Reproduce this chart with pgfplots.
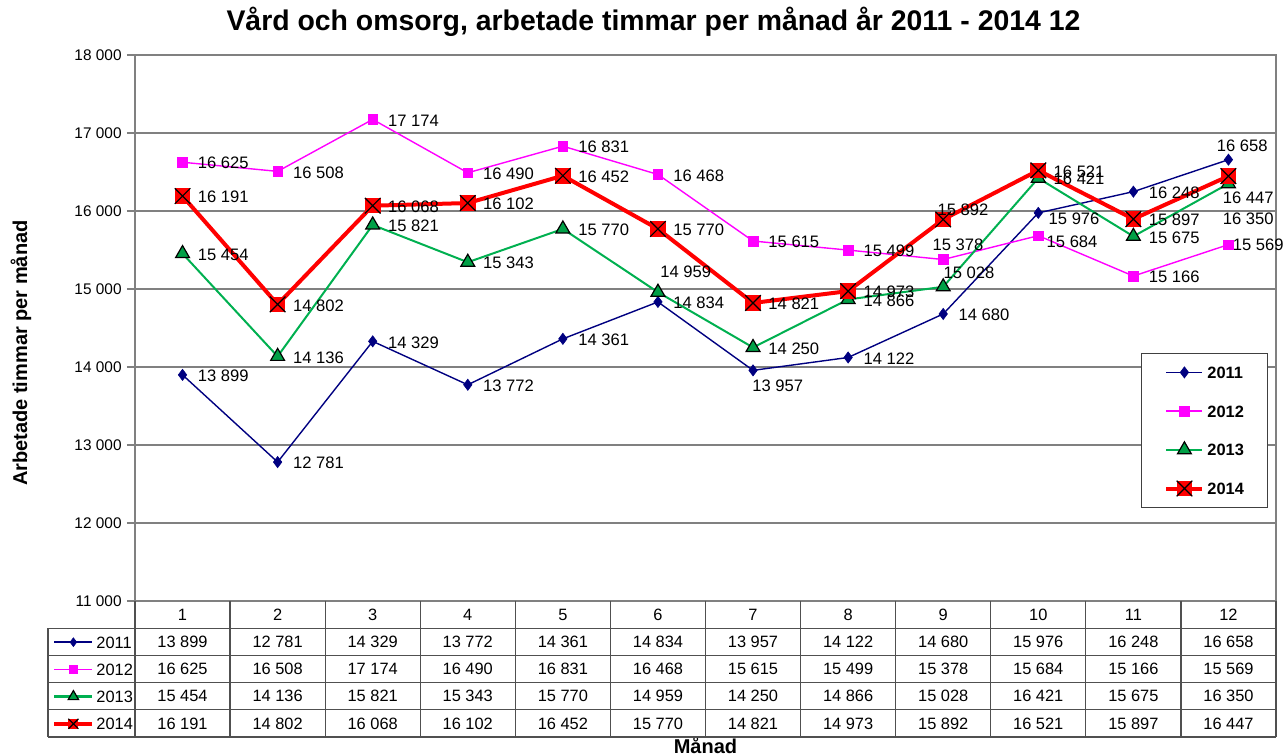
\documentclass[border=0pt]{standalone}
\usepackage{fontspec}
\setmainfont{Liberation Sans}
\usepackage{pgfplots}
\usepackage{pgfplotstable}
\pgfplotsset{compat=1.18}

\definecolor{c11}{RGB}{0,0,128}
\definecolor{c12}{RGB}{255,0,255}
\definecolor{c13}{RGB}{0,176,80}
\definecolor{c13f}{RGB}{0,160,70}
\definecolor{c14}{RGB}{255,0,0}
\definecolor{gridc}{RGB}{128,128,128}
\definecolor{tabc}{RGB}{80,80,80}

\newcommand\tabfont{\fontsize{8.2}{10}\selectfont}
\newcommand\lblfont{\fontsize{8.3}{10}\selectfont}
\newcommand\tickfont{\fontsize{7.7}{9}\selectfont}

\pgfkeys{/pgf/number format/.cd, 1000 sep={\ }, assume math mode=true}

% filled square with a cross, as in the 2014 series
\pgfdeclareplotmark{sqx}{%
  \pgfpathrectangle{\pgfqpoint{-\pgfplotmarksize}{-\pgfplotmarksize}}{\pgfqpoint{2\pgfplotmarksize}{2\pgfplotmarksize}}%
  \pgfusepathqfill
  \pgfpathmoveto{\pgfqpoint{-\pgfplotmarksize}{-\pgfplotmarksize}}%
  \pgfpathlineto{\pgfqpoint{\pgfplotmarksize}{\pgfplotmarksize}}%
  \pgfpathmoveto{\pgfqpoint{-\pgfplotmarksize}{\pgfplotmarksize}}%
  \pgfpathlineto{\pgfqpoint{\pgfplotmarksize}{-\pgfplotmarksize}}%
  \pgfusepathqstroke}

% hours per month
\pgfplotstableread{
m  v11   v12   v13   v14
1  13899 16625 15454 16191
2  12781 16508 14136 14802
3  14329 17174 15821 16068
4  13772 16490 15343 16102
5  14361 16831 15770 16452
6  14834 16468 14959 15770
7  13957 15615 14250 14821
8  14122 15499 14866 14973
9  14680 15378 15028 15892
10 15976 15684 16421 16521
11 16248 15166 15675 15897
12 16658 15569 16350 16447
}\data

\pgfplotsset{
  % value labels, offset (dx,dy) in px, dy downwards
  lbl/.style 2 args={forget plot, draw=none, mark=none, point meta=y,
    nodes near coords={\pgfmathprintnumber{\pgfplotspointmeta}},
    every node near coord/.style={anchor=west, inner sep=0pt, font=\lblfont, black,
      xshift={(#1)*0.5pt}, yshift={0pt-(#2)*0.5pt}}},
  pick/.style 2 args={skip coords between index={0}{#1},
    skip coords between index={#2}{100}},
  s11/.style={c11, line width=0.7pt, mark=diamond*, mark size=2.8pt,
    mark options={solid, fill=c11, draw=c11, line width=0.3pt}},
  s12/.style={c12, line width=0.7pt, mark=square*, mark size=2.4pt,
    mark options={solid, fill=c12, draw=c12, line width=0.3pt}},
  s13/.style={c13, line width=1pt, mark=triangle*, mark size=4pt,
    mark options={solid, fill=c13f, draw=black, line width=0.6pt}},
  s14/.style={c14, line width=2pt, mark=sqx, mark size=3.9pt,
    mark options={solid, fill=c14, draw=black, line width=0.6pt}},
}

\begin{document}
\begin{tikzpicture}
\path[use as bounding box] (-67.5pt,-77pt) rectangle (575.5pt,300.5pt);

\begin{axis}[
  at={(0pt,0pt)}, anchor=south west,
  width=570.5pt, height=273pt, scale only axis,
  xmin=0.5, xmax=12.5, ymin=11000, ymax=18000,
  xtick={1,...,12}, xtick style={draw=none},
  xticklabel style={anchor=center, yshift=-2.8pt, font=\tabfont},
  ytick={11000,12000,...,18000}, ytick pos=left,
  tick align=outside, major tick length=4pt,
  ytick style={gridc, line width=0.6pt},
  yticklabel style={font=\tickfont, inner sep=0pt, anchor=east, xshift=-2.5pt},
  scaled y ticks=false,
  ymajorgrids, grid style={gridc, line width=0.75pt},
  axis line style={gridc, line width=0.75pt},
  clip=false,
  title={Vård och omsorg, arbetade timmar per månad år 2011 - 2014 12},
  title style={at={([xshift=-26pt,yshift=10.5pt]axis description cs:0.5,1)}, anchor=center,
    font=\fontsize{14.2}{16}\selectfont\bfseries},
  xlabel={Månad},
  xlabel style={at={([yshift=-72pt]axis description cs:0.5,0)}, anchor=center,
    font=\fontsize{10}{12}\selectfont\bfseries},
  ylabel={Arbetade timmar per månad},
  ylabel style={at={([xshift=-57pt]axis description cs:0,0.454)}, anchor=center,
    font=\fontsize{10}{12}\selectfont\bfseries},
  legend style={at={(0.8817,0.4542)}, anchor=north west, draw=black!75, fill=white,
    inner xsep=11.5pt, inner ysep=5.5pt, row sep=11.35pt, column sep=1.5pt,
    nodes={inner sep=0pt, text height=7pt, text depth=1pt,
      font=\fontsize{8.2}{9}\selectfont\bfseries}},
  legend cell align=left,
  legend image code/.code={\draw[mark repeat=2,mark phase=2,#1]
    plot coordinates {(0pt,0pt) (9pt,0pt) (18pt,0pt)};},
]
\addplot[s11] table[x=m, y=v11] {\data}; \addlegendentry{2011}
\addplot[s12] table[x=m, y=v12] {\data}; \addlegendentry{2012}
\addplot[s13] table[x=m, y=v13] {\data}; \addlegendentry{2013}
\addplot[s14] table[x=m, y=v14] {\data}; \addlegendentry{2014}

% labels: most to the right of the point, a few moved as in the original
\addplot[lbl={15}{1}, skip coords between index={6}{7}, skip coords between index={9}{10},
  skip coords between index={11}{12}] table[x=m, y=v11] {\data};
\addplot[lbl={-1}{15}, pick={6}{7}] table[x=m, y=v11] {\data};
\addplot[lbl={10}{6}, pick={9}{10}] table[x=m, y=v11] {\data};
\addplot[lbl={-12}{-14}, pick={11}{12}] table[x=m, y=v11] {\data};

\addplot[lbl={15}{1}, skip coords between index={8}{10},
  skip coords between index={11}{12}] table[x=m, y=v12] {\data};
\addplot[lbl={-11}{-15}, pick={8}{9}] table[x=m, y=v12] {\data};
\addplot[lbl={8}{6}, pick={9}{10}] table[x=m, y=v12] {\data};
\addplot[lbl={4}{0}, pick={11}{12}] table[x=m, y=v12] {\data};

\addplot[lbl={15}{1}, skip coords between index={5}{6}, skip coords between index={8}{9},
  skip coords between index={11}{12}] table[x=m, y=v13] {\data};
\addplot[lbl={2}{-20}, pick={5}{6}] table[x=m, y=v13] {\data};
\addplot[lbl={0}{-14}, pick={8}{9}] table[x=m, y=v13] {\data};
\addplot[lbl={-6}{35}, pick={11}{12}] table[x=m, y=v13] {\data};

\addplot[lbl={15}{1}, skip coords between index={8}{9},
  skip coords between index={11}{12}] table[x=m, y=v14] {\data};
\addplot[lbl={-6}{-10}, pick={8}{9}] table[x=m, y=v14] {\data};
\addplot[lbl={-6}{22}, pick={11}{12}] table[x=m, y=v14] {\data};
\end{axis}

% keys of the data table below the chart
\begin{axis}[
  at={(0pt,0pt)}, anchor=south west,
  width=570.5pt, height=273pt, scale only axis, hide axis,
  xmin=0, xmax=1, ymin=0, ymax=1,
  legend style={at={([xshift=-41.5pt,yshift=-17.4pt]axis description cs:0,0)},
    anchor=north west, draw=none, fill=none, inner sep=0pt,
    row sep=7.6pt, column sep=1pt,
    nodes={inner sep=0pt, text height=6pt, text depth=0pt, font=\tabfont}},
  legend cell align=left,
  legend image code/.code={\draw[mark repeat=2,mark phase=2,#1]
    plot coordinates {(0pt,0pt) (9.5pt,0pt) (19pt,0pt)};},
]
\addlegendimage{s11, mark size=2.2pt}\addlegendentry{2011}
\addlegendimage{s12, mark size=2pt}\addlegendentry{2012}
\addlegendimage{s13, line width=1.2pt, mark size=3pt}\addlegendentry{2013}
\addlegendimage{s14, mark size=2.5pt}\addlegendentry{2014}
\end{axis}

% data table grid and values
\begin{scope}[tabc, line width=0.6pt]
  \foreach \k in {1,...,5} \draw (-43.5pt,{-\k*13.6pt}) -- (570.5pt,{-\k*13.6pt});
  \foreach \k in {0,...,12} \draw ({\k*47.5417pt},0pt) -- ({\k*47.5417pt},-68pt);
  \draw (-43.5pt,-13.6pt) -- (-43.5pt,-68pt);
\end{scope}
\foreach \col [count=\r] in {v11,v12,v13,v14} {
  \foreach \i in {0,...,11} {
    \pgfplotstablegetelem{\i}{\col}\of\data
    \node[font=\tabfont, inner sep=0pt, anchor=center]
      at ({(\i+0.5)*47.5417pt}, {-(\r+0.5)*13.6pt}) {\pgfmathprintnumber{\pgfplotsretval}};
  }
}
\end{tikzpicture}
\end{document}
